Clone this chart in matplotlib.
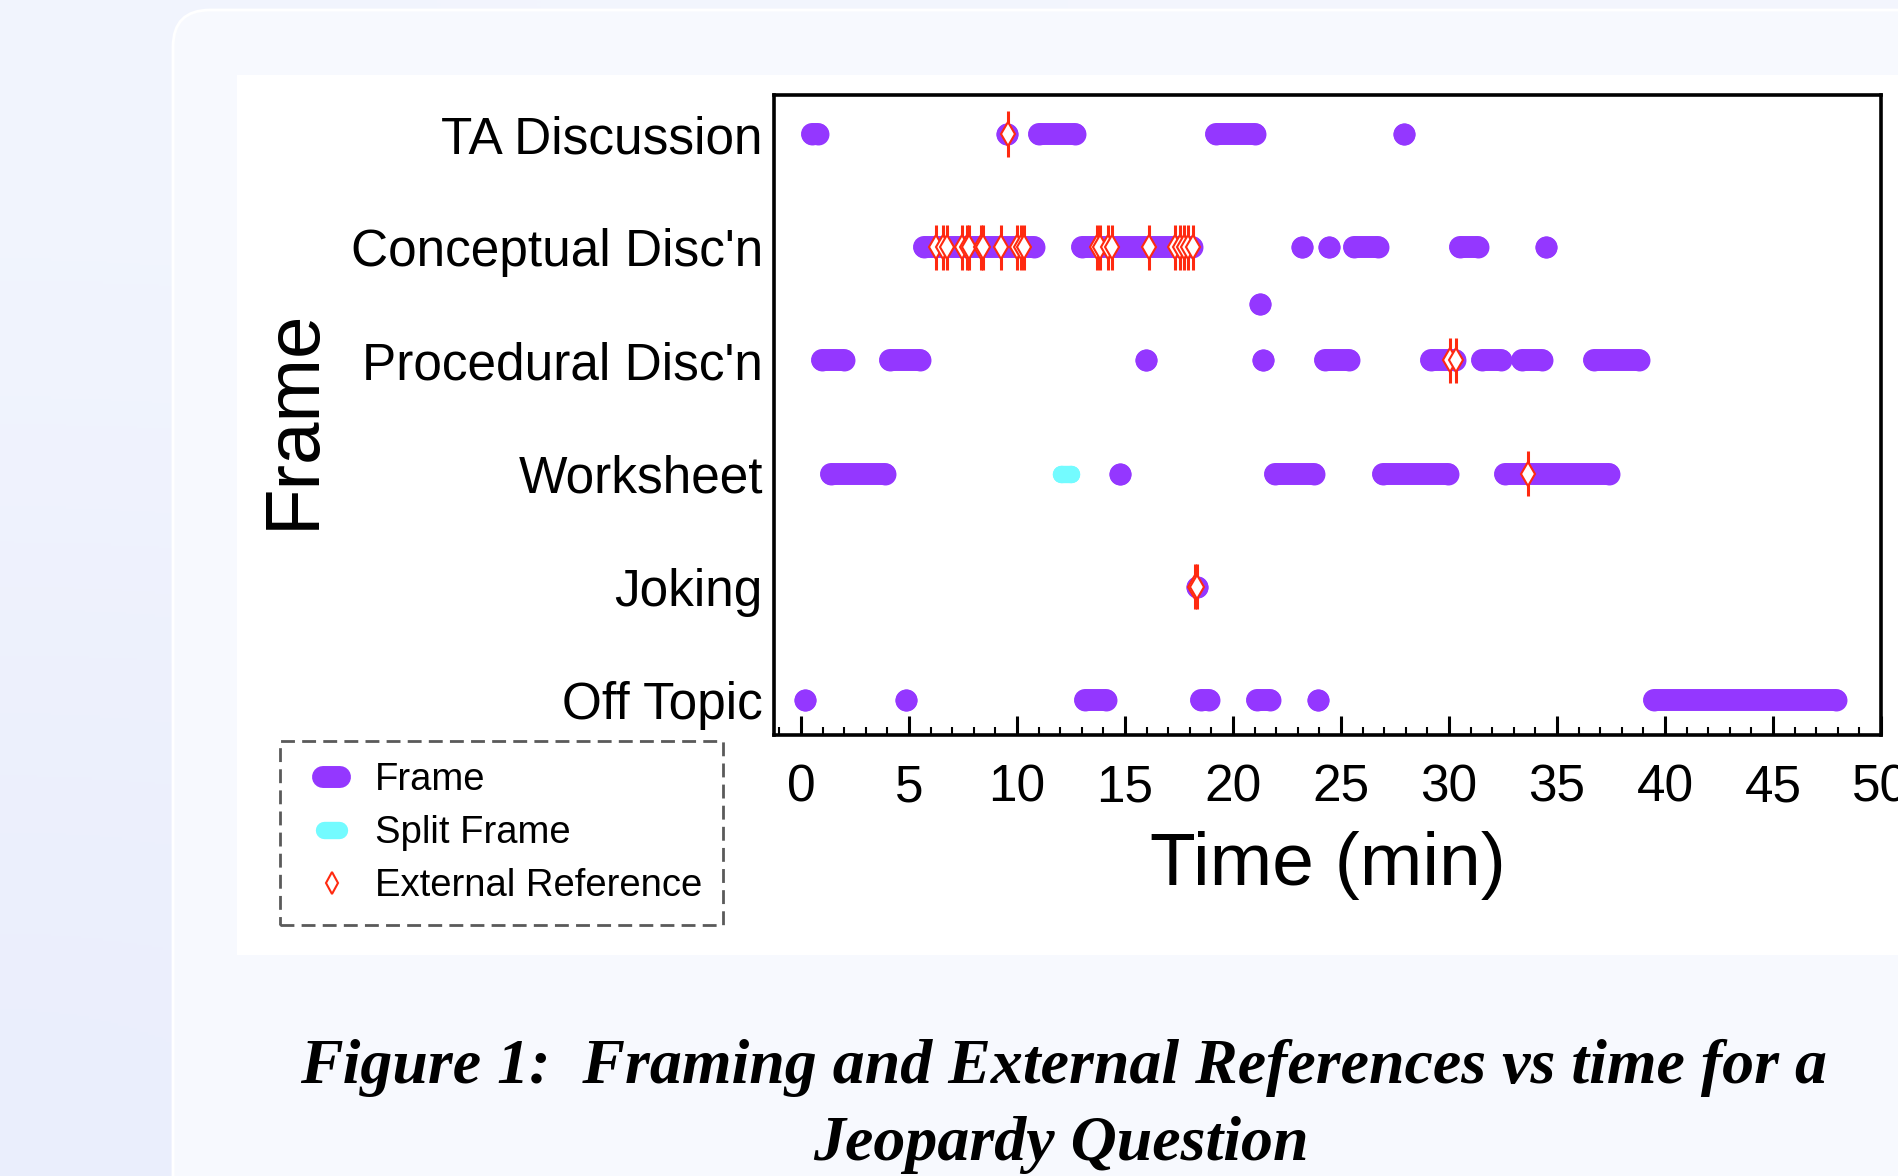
import numpy as np
import matplotlib
matplotlib.use("Agg")
import matplotlib.pyplot as plt
from matplotlib.lines import Line2D
from matplotlib.patches import FancyBboxPatch, Rectangle
from matplotlib.legend_handler import HandlerLine2D
from matplotlib.ticker import MultipleLocator

plt.rcParams['font.family'] = ['Liberation Sans', 'DejaVu Sans']

# frame episodes as (start, end) in minutes; start == end is a single dot
ta_discussion = [(0.5, 0.8), (9.55, 9.55), (11.0, 12.7), (19.2, 21.0), (27.9, 27.9)]
conceptual = [(5.7, 10.8), (13.0, 18.1), (23.2, 23.2), (24.45, 24.45),
              (25.6, 26.7), (30.5, 31.35), (34.5, 34.5)]
between_rows = [(21.25, 21.25)]   # the odd dot drawn halfway between rows
procedural = [(0.95, 2.0), (4.1, 5.5), (15.95, 15.95), (21.4, 21.4), (24.25, 25.35),
              (29.15, 30.3), (31.55, 32.4), (33.4, 34.3), (36.7, 38.8)]
worksheet = [(1.4, 3.9), (14.75, 14.75), (21.95, 23.75), (26.95, 29.95), (32.6, 37.4)]
worksheet_split = [(12.05, 12.5)]
joking = [(18.35, 18.35)]
off_topic = [(0.2, 0.2), (4.85, 4.85), (13.15, 14.1), (18.5, 18.9),
             (21.1, 21.7), (23.95, 23.95), (39.5, 47.9)]

# external references (minutes)
ta_refs = [9.6]
conceptual_refs = [6.23, 6.59, 6.74, 7.44, 7.67, 7.78, 8.32, 8.44, 9.24, 10.02, 10.17,
                   10.32, 13.69, 13.84, 14.23, 14.38, 16.13, 17.31, 17.55, 17.73,
                   17.93, 18.16]
procedural_refs = [30.03, 30.34]
worksheet_refs = [33.64]
joking_refs = [18.25, 18.35]

row_names = ['Off Topic', 'Joking', 'Worksheet', "Procedural Disc'n",
             "Conceptual Disc'n", 'TA Discussion']
row_pos = [1, 2, 3, 4, 5, 6]

purple = '#9437ff'
cyan = '#73fbff'
red = '#ff2a10'

W, H = 1899, 1176
fig = plt.figure(figsize=(W / 100, H / 100), dpi=100)

# page background, card and white image area (pixel coords, y down)
bg = fig.add_axes([0, 0, 1, 1], zorder=-10)
grad = np.array([[[0.949, 0.961, 0.996], [0.957, 0.965, 0.996]],
                 [[0.918, 0.933, 0.988], [0.945, 0.953, 0.996]]])
bg.imshow(grad, extent=(0, W, H, 0), aspect='auto', interpolation='bicubic')
bg.add_patch(FancyBboxPatch((173, 10), 1900, 1300, boxstyle='round,pad=0,rounding_size=37',
                            facecolor='#f7f9fe', edgecolor='white', lw=2))
bg.add_patch(Rectangle((237, 75), 1700, 880, facecolor='white', edgecolor='none'))
bg.set_xlim(0, W)
bg.set_ylim(H, 0)
bg.axis('off')

ax = fig.add_axes([774 / W, 1 - 735 / H, (1881 - 774) / W, (735 - 94.5) / H])


def draw_frames(spans, y, color, lw):
    for s, e in spans:
        ax.plot([s, e], [y, y], color=color, lw=lw, solid_capstyle='round',
                marker='o', ms=lw, mew=0, zorder=2)


def draw_refs(xs, y):
    ax.errorbar(xs, [y] * len(xs), yerr=0.2, fmt='d', color=red, mfc='white', mec=red,
                ms=12, mew=1.5, elinewidth=2.2, capsize=0, zorder=3)


draw_frames(ta_discussion, 6, purple, 15.8)
draw_frames(conceptual, 5, purple, 15.8)
draw_frames(between_rows, 4.5, purple, 15.8)
draw_frames(procedural, 4, purple, 15.8)
draw_frames(worksheet, 3, purple, 15.8)
draw_frames(worksheet_split, 3, cyan, 12.5)
draw_frames(joking, 2, purple, 15.8)
draw_frames(off_topic, 1, purple, 15.8)

draw_refs(ta_refs, 6)
draw_refs(conceptual_refs, 5)
draw_refs(procedural_refs, 4)
draw_refs(worksheet_refs, 3)
draw_refs(joking_refs, 2)

ax.set_xlim(-1.25, 50)
ax.set_ylim(0.69, 6.35)
ax.set_xticks(range(0, 51, 5))
ax.xaxis.set_minor_locator(MultipleLocator(1))
ax.set_yticks(row_pos)
ax.set_yticklabels(row_names)
ax.tick_params(axis='x', which='major', direction='in', length=13.7, width=2.2,
               labelsize=37, pad=20.5, top=False)
ax.tick_params(axis='x', which='minor', direction='in', length=5.8, width=1.5, top=False)
ax.tick_params(axis='y', length=0, pad=8, labelsize=37)
for sp in ax.spines.values():
    sp.set_linewidth(2.6)

ax.set_xlabel('Time (min)', fontsize=54, va='center')
ax.xaxis.set_label_coords(0.5, -0.2045)
ax.set_ylabel('Frame', fontsize=55, va='center')
ax.yaxis.set_label_coords(-0.4336, 0.4934)

frame_h = Line2D([], [], color=purple, lw=15.8, solid_capstyle='round')
split_h = Line2D([], [], color=cyan, lw=12.5, solid_capstyle='round')
ref_h = Line2D([], [], ls='none', marker='d', mfc='white', mec=red, ms=11, mew=1.5)
leg = fig.legend([frame_h, split_h, ref_h], ['Frame', 'Split Frame', 'External Reference'],
                 loc='upper left', bbox_to_anchor=(280 / W, 1 - 741 / H), borderaxespad=0,
                 fontsize=27.5, handlelength=1.6, handletextpad=0.34, borderpad=0.55,
                 labelspacing=0.45, fancybox=False, framealpha=1, edgecolor='#5a5a5a',
                 handler_map={frame_h: HandlerLine2D(numpoints=2, marker_pad=0.575),
                              split_h: HandlerLine2D(numpoints=2, marker_pad=0.6)})
leg.get_frame().set_linestyle((0, (5, 2.6)))
leg.get_frame().set_linewidth(2)

cap = dict(family=['Liberation Serif', 'DejaVu Serif'], weight='bold', style='italic',
           fontsize=46, ha='center', va='baseline')
fig.text(1064 / W, 1 - 1083 / H, 'Figure 1:  Framing and External References vs time for a', **cap)
fig.text(1061 / W, 1 - 1160 / H, 'Jeopardy Question', **cap)

fig.savefig('out.png', dpi=100)
